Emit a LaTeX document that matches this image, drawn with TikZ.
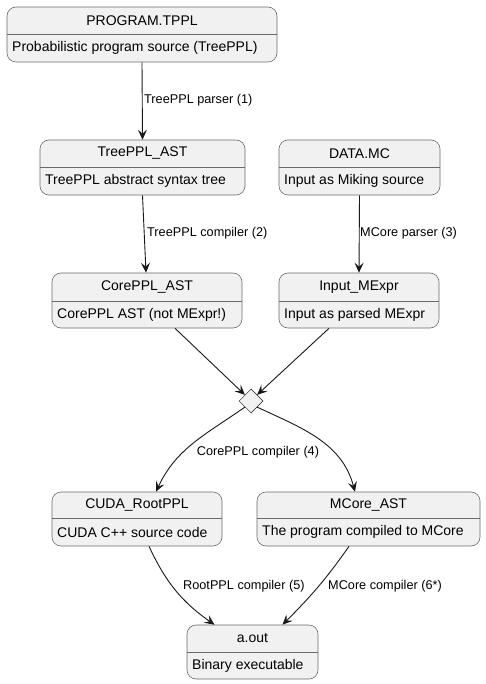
\documentclass[tikz,border=0pt]{standalone}
\usepackage{fontspec}
\setmainfont{Liberation Sans}
\usetikzlibrary{arrows.meta,shapes.geometric,fit}
\definecolor{stfill}{HTML}{F1F1F1}
\definecolor{stline}{HTML}{6A6A6A}
\definecolor{arrcol}{HTML}{181818}
\tikzset{
  stbox/.style={draw=stline, fill=stfill, line width=0.6pt, rounded corners=9pt, inner sep=0pt},
  divline/.style={draw=stline, line width=0.6pt},
  sttitle/.style={font=\fontsize{14}{16}\selectfont, inner sep=0pt, text=black},
  stbody/.style={font=\fontsize{14}{16}\selectfont, inner sep=0pt, anchor=west, text=black},
  elabel/.style={font=\fontsize{12.7}{14}\selectfont, inner sep=0pt, text=black},
  arr/.style={draw=arrcol, line width=0.9pt, -{Stealth[length=10pt,width=9pt,inset=4pt]}},
  dia/.style={diamond, draw=arrcol, fill=stfill, line width=0.5pt, minimum width=24pt, minimum height=24pt, inner sep=0pt}
}
\newcommand{\mystate}[8]{%
  \node[stbox, fit={(#2,-#3) (#4,-#5)}] (#1) {};
  \draw[divline] (#2,-#6) -- (#4,-#6);
  \node[sttitle] (#1-t) at ({(#2+#4)/2},{-(#3+#6)/2}) {#7};
  \node[stbody] (#1-b) at ({#2+5},{-(#6+#5)/2}) {#8};
}
\begin{document}
\begin{tikzpicture}[x=1pt,y=1pt]
\useasboundingbox (0,0) rectangle (486,-684);
\mystate{prog}{7}{7}{277}{62}{34}{PROGRAM.TPPL}{Probabilistic program source (TreePPL)}
\mystate{tree}{40}{140}{245}{195}{167}{TreePPL\_AST}{TreePPL abstract syntax tree}
\mystate{data}{279}{140}{440}{195}{167}{DATA.MC}{Input as Miking source}
\mystate{core}{52}{273}{242}{328}{301}{CorePPL\_AST}{CorePPL AST (not MExpr!)}
\mystate{inp}{279}{273}{439}{328}{301}{Input\_MExpr}{Input as parsed MExpr}
\mystate{cuda}{52}{492}{222}{546}{518}{CUDA\_RootPPL}{CUDA C++ source code}
\mystate{mcore}{257}{492}{480}{546}{518}{MCore\_AST}{The program compiled to MCore}
\mystate{aout}{187}{625}{318}{679}{652}{a.out}{Binary executable}
\node[dia] (d) at (251,-401) {};

\draw[arr] (prog.south) -- (tree.north);
\draw[arr] (tree.south) -- ([xshift=-1pt]core.north);
\draw[arr] (data.south) -- (inp.north);
\draw[arr] ([xshift=28pt]core.south) -- (d.north west);
\draw[arr] ([xshift=-30pt]inp.south) -- (d.north east);
\draw[arr] (d.south west) to[out=-145,in=65] ([xshift=19pt]cuda.north);
\draw[arr] (d.south east) to[out=-25,in=105] ([xshift=-13.5pt]mcore.north);
\draw[arr] ([xshift=12pt]cuda.south) to[out=-65,in=145] ([xshift=-38pt]aout.north);
\draw[arr] ([xshift=-19.5pt]mcore.south) to[out=-125,in=45] ([xshift=30pt]aout.north);

\node[elabel, anchor=west] (l1) at (144,-100) {TreePPL parser (1)};
\node[elabel, anchor=west] (l2) at (147,-233) {TreePPL compiler (2)};
\node[elabel, anchor=west] (l3) at (360,-233) {MCore parser (3)};
\node[elabel] (l4) at (258,-452) {CorePPL compiler (4)};
\node[elabel, anchor=west] (l5) at (183,-586) {RootPPL compiler (5)};
\node[elabel, anchor=west] (l6) at (328,-586) {MCore compiler (6*)};
\end{tikzpicture}
\end{document}
